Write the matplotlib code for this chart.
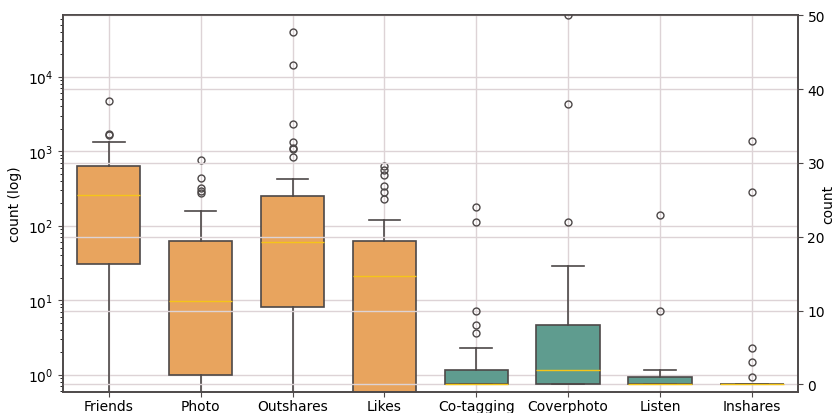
import numpy as np
import matplotlib
matplotlib.use("Agg")
import matplotlib.pyplot as plt

# ── Box statistics ────────────────────────────────────────────────────────────
log_labels = ["Friends", "Photo", "Outshares", "Likes"]
log_q1     = [30.6, 1.0, 8.0, 0.0]
log_med    = [261, 9.8, 60, 21]
log_q3     = [638, 62, 248, 62]
log_lo     = [0.0, 0.0, 0.0, 0.0]
log_hi     = [1330, 156, 424, 119]
log_fliers = [
    [4680, 1720, 1650],
    [769, 441, 318, 295, 272],
    [39400, 14400, 2340, 1330, 1110, 1070, 836],
    [627, 560, 479, 338, 281, 226],
]

lin_labels = ["Co-tagging", "Coverphoto", "Listen", "Inshares"]
lin_q1     = [0, 0, 0, 0]
lin_med    = [0, 2, 0, 0]
lin_q3     = [2, 8, 1, 0]
lin_lo     = [0, 0, 0, 0]
lin_hi     = [5, 16, 2, 0]
lin_fliers = [
    [24, 22, 10, 8, 7],
    [50, 38, 22],
    [23, 10],
    [33, 26, 5, 3, 1],
]

ORANGE = "#e8a45e"
TEAL   = "#5f9c8f"
EDGE   = "#4d4848"
MEDIAN = "#f5c518"
GRID   = "#ddd3d6"


def make_stats(labels, q1, med, q3, lo, hi, fliers):
    return [dict(label=l, q1=a, med=m, q3=b, whislo=w0, whishi=w1, fliers=f)
            for l, a, m, b, w0, w1, f in zip(labels, q1, med, q3, lo, hi, fliers)]


def draw(ax, stats, positions, color):
    ax.bxp(stats, positions=positions, widths=0.69, patch_artist=True,
           boxprops=dict(facecolor=color, edgecolor=EDGE, linewidth=1.2),
           whiskerprops=dict(color=EDGE, linewidth=1.2),
           capprops=dict(color=EDGE, linewidth=1.2),
           medianprops=dict(color=MEDIAN, linewidth=1.0),
           flierprops=dict(marker="o", markerfacecolor="none",
                           markeredgecolor=EDGE, markersize=5,
                           markeredgewidth=1.0),
           manage_ticks=False)


fig = plt.figure(figsize=(8.38, 4.14), dpi=100)
ax = fig.add_axes([0.075, 0.051, 0.877, 0.910])
ax2 = ax.twinx()

ax.set_yscale("log")
draw(ax, make_stats(log_labels, log_q1, log_med, log_q3, log_lo, log_hi, log_fliers),
     [0, 1, 2, 3], ORANGE)
draw(ax2, make_stats(lin_labels, lin_q1, lin_med, lin_q3, lin_lo, lin_hi, lin_fliers),
     [4, 5, 6, 7], TEAL)

ax.set_xlim(-0.5, 7.5)
ax.set_ylim(0.586, 67000)
ax2.set_ylim(-1, 50)
ax2.set_yticks([0, 10, 20, 30, 40, 50])

ax.set_xticks(range(8))
ax.set_xticklabels(log_labels + lin_labels, fontsize=10)
ax.set_ylabel("count (log)", fontsize=10)
ax2.set_ylabel("count", fontsize=10, labelpad=-3)
ax.tick_params(labelsize=10, color=EDGE)
ax.tick_params(axis="x", pad=1.5)
ax2.tick_params(labelsize=10, color=EDGE)

ax.grid(True, which="major", color=GRID, linewidth=1.0)
ax.set_axisbelow(True)
ax2.grid(True, axis="y", color=GRID, linewidth=1.0)
ax2.set_axisbelow(True)

for a in (ax, ax2):
    for s in a.spines.values():
        s.set_color(EDGE)
        s.set_linewidth(1.2)

fig.savefig("out.png", dpi=100)
